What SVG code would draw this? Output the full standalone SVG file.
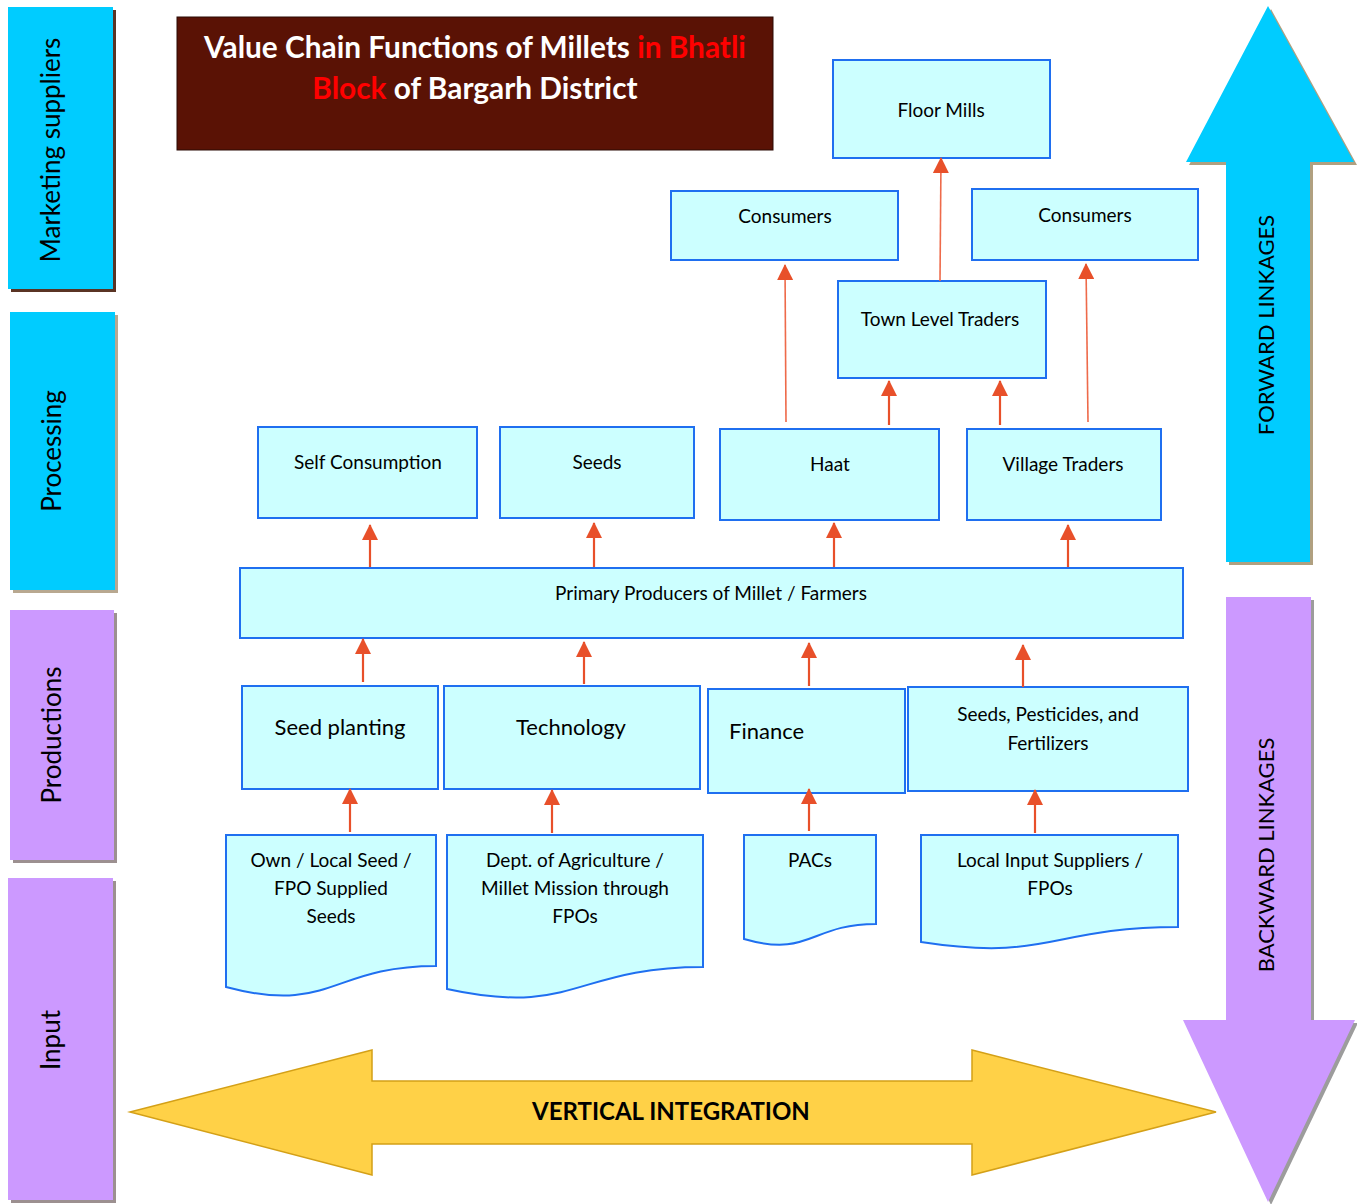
<svg xmlns="http://www.w3.org/2000/svg" width="1357" height="1204" viewBox="0 0 1357 1204">
<style>
text{font-family:Lato,"Open Sans","Liberation Sans",sans-serif;fill:#000}
.box{fill:#CCFFFF;stroke:#1F6FF0;stroke-width:2}
.lbl{font-size:19px;text-anchor:middle}
.big{font-size:22px;text-anchor:middle}
.side{font-size:26px;text-anchor:middle}
.con{stroke:#E8502A;stroke-width:2.2;fill:none;marker-end:url(#ah)}
.con2{stroke:#EE6A4A;stroke-width:1.6;fill:none;marker-end:url(#ah)}
.cyan{fill:#00CCFF}
.purp{fill:#CC99FF}
</style>
<defs>
<marker id="ah" markerUnits="userSpaceOnUse" markerWidth="16" markerHeight="16" viewBox="0 0 16 16" refX="15" refY="8" orient="auto">
<path d="M0,0 L16,8 L0,16 Z" fill="#E8502A"/>
</marker>
</defs>

<!-- side bars -->
<g id="marketing-suppliers">
<rect x="11" y="10" width="105" height="282" fill="#5A3424"/>
<rect x="8" y="7" width="105" height="282" class="cyan"/>
<text class="side" transform="translate(60,150) rotate(-90)">Marketing suppliers</text>
</g>
<g id="processing">
<rect x="13" y="315" width="105" height="278" fill="#B8A890"/>
<rect x="10" y="312" width="105" height="278" class="cyan"/>
<text class="side" transform="translate(61,451) rotate(-90)">Processing</text>
</g>
<g id="productions">
<rect x="13" y="613" width="104" height="250" fill="#9C9090"/>
<rect x="10" y="610" width="104" height="250" class="purp"/>
<text class="side" transform="translate(61,735) rotate(-90)">Productions</text>
</g>
<g id="input">
<rect x="11" y="881" width="105" height="322" fill="#9C9090"/>
<rect x="8" y="878" width="105" height="322" class="purp"/>
<text class="side" transform="translate(60,1040) rotate(-90)">Input</text>
</g>

<!-- title -->
<g id="title">
<rect x="177" y="17" width="596" height="133" fill="#5A1205" stroke="#2a0a04" stroke-width="1"/>
<text x="475" y="58" text-anchor="middle" font-size="29.8" font-weight="bold"><tspan fill="#FFFFFF">Value Chain Functions of Millets </tspan><tspan fill="#FF0000">in Bhatli</tspan></text>
<text x="475" y="99" text-anchor="middle" font-size="29.8" font-weight="bold"><tspan fill="#FF0000">Block</tspan><tspan fill="#FFFFFF"> of Bargarh District</tspan></text>
</g>

<!-- forward / backward linkages -->
<g id="forward-linkages">
<path d="M1229,165 V565 H1313 V165 H1357 L1271,9 L1189,165 Z" fill="#B0A080"/>
<path d="M1226,162 V562 H1310 V162 H1354 L1268,6 L1186,162 Z" class="cyan"/>
<text font-size="22" text-anchor="middle" transform="translate(1274,325) rotate(-90)">FORWARD LINKAGES</text>
</g>
<g id="backward-linkages">
<path d="M1229,600 H1314 V1023 H1358 L1271,1205 L1186,1023 H1229 Z" fill="#9C9C9C"/>
<path d="M1226,597 H1311 V1020 H1355 L1268,1202 L1183,1020 H1226 Z" class="purp"/>
<text font-size="22" text-anchor="middle" transform="translate(1274,855) rotate(-90)">BACKWARD LINKAGES</text>
</g>

<!-- vertical integration -->
<g id="vertical-integration">
<path d="M130,1112 L372,1050 V1081 H972 V1050 L1216,1112 L972,1175 V1144 H372 V1175 Z" fill="#FFD147" stroke="#D4A017" stroke-width="1.5"/>
<text x="671" y="1120" text-anchor="middle" font-size="24" font-weight="bold">VERTICAL INTEGRATION</text>
</g>

<!-- nodes -->
<g id="floor-mills"><rect class="box" x="833" y="60" width="217" height="98"/><text class="lbl" x="941" y="117">Floor Mills</text></g>
<g id="consumers-1"><rect class="box" x="671" y="191" width="227" height="69"/><text class="lbl" x="785" y="223">Consumers</text></g>
<g id="consumers-2"><rect class="box" x="972" y="189" width="226" height="71"/><text class="lbl" x="1085" y="222">Consumers</text></g>
<g id="town-level-traders"><rect class="box" x="838" y="281" width="208" height="97"/><text class="lbl" x="940" y="326">Town Level Traders</text></g>
<g id="self-consumption"><rect class="box" x="258" y="427" width="219" height="91"/><text class="lbl" x="368" y="469">Self Consumption</text></g>
<g id="seeds"><rect class="box" x="500" y="427" width="194" height="91"/><text class="lbl" x="597" y="469">Seeds</text></g>
<g id="haat"><rect class="box" x="720" y="429" width="219" height="91"/><text class="lbl" x="830" y="471">Haat</text></g>
<g id="village-traders"><rect class="box" x="967" y="429" width="194" height="91"/><text class="lbl" x="1063" y="471">Village Traders</text></g>
<g id="primary-producers"><rect class="box" x="240" y="568" width="943" height="70"/><text class="lbl" x="711" y="600">Primary Producers of Millet / Farmers</text></g>
<g id="seed-planting"><rect class="box" x="242" y="686" width="196" height="103"/><text class="big" x="340" y="735">Seed planting</text></g>
<g id="technology"><rect class="box" x="444" y="686" width="256" height="103"/><text class="big" x="571" y="735">Technology</text></g>
<g id="finance"><rect class="box" x="708" y="689" width="197" height="104"/><text x="729" y="739" font-size="22">Finance</text></g>
<g id="seeds-pesticides-fertilizers"><rect class="box" x="908" y="687" width="280" height="104"/><text class="lbl" x="1048" y="721">Seeds, Pesticides, and</text><text class="lbl" x="1048" y="750">Fertilizers</text></g>

<g id="own-local-seed"><path class="box" d="M226,835 H436 V966 C331,966 331,1015 226,987 Z"/><text class="lbl" x="331" y="867">Own / Local Seed /</text><text class="lbl" x="331" y="895">FPO Supplied</text><text class="lbl" x="331" y="923">Seeds</text></g>
<g id="dept-agriculture"><path class="box" d="M447,835 H703 V967 C575,967 575,1017 447,989 Z"/><text class="lbl" x="575" y="867">Dept. of Agriculture /</text><text class="lbl" x="575" y="895">Millet Mission through</text><text class="lbl" x="575" y="923">FPOs</text></g>
<g id="pacs"><path class="box" d="M744,835 H876 V924 C810,924 810,958 744,939 Z"/><text class="lbl" x="810" y="867">PACs</text></g>
<g id="local-input-suppliers"><path class="box" d="M921,835 H1178 V927 C1050,927 1050,962 921,942 Z"/><text class="lbl" x="1050" y="867">Local Input Suppliers /</text><text class="lbl" x="1050" y="895">FPOs</text></g>

<!-- connectors -->
<g id="connectors">
<line class="con" x1="350" y1="832" x2="350" y2="789"/>
<line class="con" x1="552" y1="833" x2="552" y2="790"/>
<line class="con" x1="809" y1="831" x2="809" y2="789"/>
<line class="con" x1="1035" y1="833" x2="1035" y2="790"/>
<line class="con" x1="363" y1="682" x2="363" y2="639"/>
<line class="con" x1="584" y1="684" x2="584" y2="642"/>
<line class="con" x1="809" y1="686" x2="809" y2="643"/>
<line class="con" x1="1023" y1="687" x2="1023" y2="645"/>
<line class="con" x1="370" y1="567" x2="370" y2="525"/>
<line class="con" x1="594" y1="567" x2="594" y2="523"/>
<line class="con" x1="834" y1="567" x2="834" y2="523"/>
<line class="con" x1="1068" y1="567" x2="1068" y2="525"/>
<line class="con" x1="889" y1="425" x2="889" y2="381"/>
<line class="con" x1="1000" y1="425" x2="1000" y2="381"/>
<line class="con2" x1="786" y1="422" x2="785" y2="265"/>
<line class="con2" x1="1088" y1="422" x2="1086" y2="264"/>
<line class="con2" x1="940" y1="281" x2="941" y2="158"/>
</g>
</svg>
